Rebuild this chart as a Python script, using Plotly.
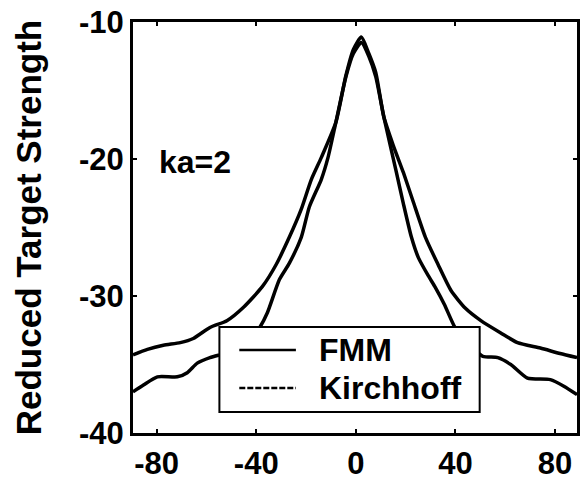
import plotly.graph_objects as go

# ---- data ----
fmm_x = [-89.5, -83.7, -77.3, -70.5, -65.3, -58.6, -51.8, -45, -37.5, -32, -26.7, -22, -17.9, -13.9,
         -8, -4, -1, 2.2, 5.2, 8, 11.2, 15, 19.1, 23, 27.9, 33, 38.2, 44, 50.2, 58.2, 64.9, 74.1, 82, 88.8]
fmm_y = [-34.3, -33.9, -33.6, -33.4, -33.1, -32.3, -31.8, -30.8, -29.3, -27.7, -25.7, -23.7, -21.5, -19.9,
         -17.3, -13.9, -12.0, -11.1, -12.3, -13.7, -16.9, -19.0, -21.0, -23.1, -25.7, -27.7, -29.6, -30.9,
         -31.8, -32.7, -33.4, -33.8, -34.2, -34.5]

kir_x = [-89.5, -85.3, -79.7, -71.7, -67.7, -63.7, -58.6, -54.6, -48, -43, -38.6, -35.5, -30.7, -26.7,
         -21.9, -18.7, -13.9, -11.2, -8, -4, -1, 2.2, 5.2, 8, 11.2, 16.3, 19, 22.3, 25.1, 29, 32, 35.5,
         39.8, 45, 51, 57, 62.2, 68.9, 78.1, 83.7, 88.8]
kir_y = [-37.0, -36.5, -35.9, -35.9, -35.6, -34.9, -34.5, -34.3, -34.0, -33.4, -32.3, -31.2, -28.8, -27.6,
         -25.7, -23.5, -21.5, -19.9, -17.3, -14.0, -12.3, -11.5, -12.5, -14.0, -16.9, -21.0, -23.2, -25.7,
         -27.2, -28.5, -29.4, -30.6, -32.3, -33.5, -34.4, -34.5, -35.0, -36.0, -36.1, -36.6, -37.2]

series_names = ["FMM", "Kirchhoff"]
x_ticks = [-80, -40, 0, 40, 80]
x_ticktext = ["-80", "-40", "0", "40", "80"]
y_ticks = [-40, -30, -20, -10]
y_ticktext = ["-40", "-30", "-20", "-10"]

FONT = "Liberation Sans"

fig = go.Figure()
fig.add_trace(go.Scatter(x=fmm_x, y=fmm_y, mode="lines", name=series_names[0],
                         line=dict(color="black", width=3.5, shape="spline", smoothing=0.6),
                         showlegend=False))
fig.add_trace(go.Scatter(x=kir_x, y=kir_y, mode="lines", name=series_names[1],
                         line=dict(color="black", width=3.5, shape="spline", smoothing=0.6),
                         showlegend=False))

axis_common = dict(showline=True, linecolor="black", linewidth=3, mirror="ticks",
                   ticks="inside", ticklen=4, tickwidth=2, tickcolor="black",
                   showgrid=False, zeroline=False,
                   tickfont=dict(family=FONT, size=31, color="black", weight="bold"))

fig.update_xaxes(range=[-89.5, 88.8], tickvals=x_ticks, ticktext=x_ticktext,
                 ticklabelstandoff=1, **axis_common)
fig.update_yaxes(range=[-40, -10], tickvals=y_ticks, ticktext=y_ticktext,
                 ticklabelstandoff=0,
                 title=dict(text="Reduced Target Strength", standoff=27,
                            font=dict(family=FONT, size=35, color="black", weight="bold")),
                 **axis_common)

fig.add_annotation(x=-79.7, y=-20.2, text="ka=2", showarrow=False, xanchor="left", yanchor="middle",
                   font=dict(family=FONT, size=32, color="black", weight="bold"))

# ---- legend box (drawn in paper coordinates) ----
lg_x0, lg_x1, lg_y0, lg_y1 = 0.1946, 0.7808, 0.0511, 0.2579
row_y = [0.2019, 0.1095]
sample_x0, sample_x1, text_x = 0.2394, 0.3669, 0.4139
fig.add_shape(type="rect", xref="paper", yref="paper", x0=lg_x0, x1=lg_x1, y0=lg_y0, y1=lg_y1,
              line=dict(color="black", width=2), fillcolor="white", layer="above")
for name, ry, dash in zip(series_names, row_y, ["solid", "6px,2px"]):
    fig.add_shape(type="line", xref="paper", yref="paper", x0=sample_x0, x1=sample_x1, y0=ry, y1=ry,
                  line=dict(color="black", width=2.5, dash=dash), layer="above")
    fig.add_annotation(xref="paper", yref="paper", x=text_x, y=ry, text=name, showarrow=False,
                       xanchor="left", yanchor="middle",
                       font=dict(family=FONT, size=32, color="black", weight="bold"))

fig.update_layout(
    width=580, height=484,
    margin=dict(l=133, r=0, t=22, b=51),
    paper_bgcolor="white", plot_bgcolor="white",
    showlegend=False,
)

fig.write_html("out.html")
